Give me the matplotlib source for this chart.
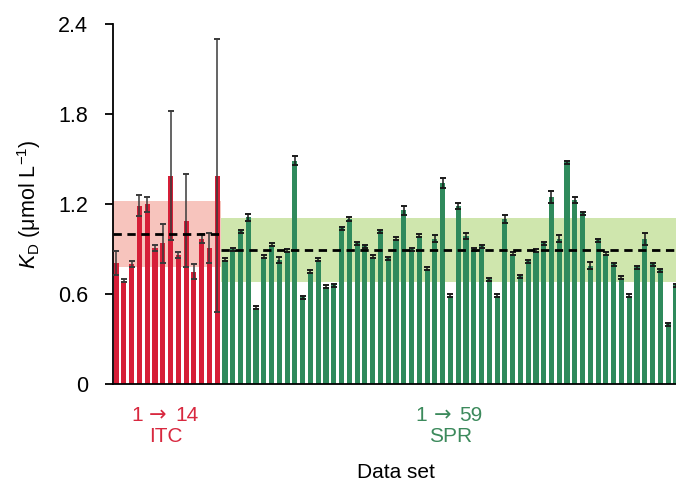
import matplotlib
matplotlib.use("Agg")
import matplotlib.pyplot as plt
import numpy as np

plt.rcParams['font.family'] = ['Liberation Sans', 'DejaVu Sans']
plt.rcParams['mathtext.fontset'] = 'custom'
plt.rcParams['mathtext.rm'] = 'Liberation Sans'
plt.rcParams['mathtext.it'] = 'Liberation Sans:italic'

# ITC data (14 sets)
itc_values = [0.81, 0.69, 0.80, 1.19, 1.20, 0.91, 0.94, 1.39, 0.86, 1.09, 0.75, 0.97, 0.91, 1.39]
itc_errors = [0.08, 0.01, 0.02, 0.07, 0.05, 0.02, 0.13, 0.43, 0.02, 0.31, 0.05, 0.03, 0.10, 0.91]

# SPR data (59 sets)
spr_values = [0.83, 0.90, 1.02, 1.11, 0.51, 0.85, 0.93, 0.83, 0.89, 1.49,
              0.58, 0.75, 0.83, 0.65, 0.66, 1.04, 1.10, 0.94, 0.92, 0.85,
              1.02, 0.84, 0.97, 1.16, 0.90, 0.99, 0.77, 0.97, 1.34, 0.59,
              1.19, 0.99, 0.90, 0.92, 0.70, 0.59, 1.10, 0.87, 0.72, 0.82,
              0.89, 0.94, 1.25, 0.97, 1.48, 1.23, 1.14, 0.79, 0.96, 0.87,
              0.80, 0.71, 0.59, 0.78, 0.97, 0.80, 0.76, 0.40, 0.66]
spr_errors = [0.01, 0.01, 0.01, 0.02, 0.01, 0.01, 0.01, 0.02, 0.01, 0.03,
              0.01, 0.01, 0.01, 0.01, 0.01, 0.01, 0.01, 0.01, 0.01, 0.01,
              0.01, 0.01, 0.01, 0.03, 0.01, 0.01, 0.01, 0.025, 0.03, 0.01,
              0.02, 0.02, 0.01, 0.01, 0.01, 0.01, 0.025, 0.01, 0.01, 0.01,
              0.01, 0.01, 0.04, 0.025, 0.01, 0.02, 0.01, 0.025, 0.01, 0.01,
              0.01, 0.01, 0.01, 0.01, 0.04, 0.01, 0.01, 0.01, 0.01]

itc_mean, itc_sd = 1.00, 0.22
spr_mean, spr_sd = 0.895, 0.215

yticks = [0, 0.6, 1.2, 1.8, 2.4]
ytick_labels = ['0', '0.6', '1.2', '1.8', '2.4']

red = '#d61f38'
green = '#2f8a5c'
red_text = '#d8283f'
green_text = '#3c8a5c'
red_shade = '#f7c4bd'
green_shade = '#cfe6ad'

fig = plt.figure(figsize=(6.76, 4.84), dpi=100)
ax = fig.add_axes([113/676, 100/484, (679-113)/676, 360/484])

n_itc = len(itc_values)
n_spr = len(spr_values)
x_itc = np.arange(n_itc)
x_spr = np.arange(n_itc, n_itc + n_spr)
xmin, xmax = -0.4, n_itc + n_spr - 0.6
boundary = n_itc - 0.5

# shaded SD bands
ax.fill_between([xmin, boundary], itc_mean - itc_sd, itc_mean + itc_sd,
                color=red_shade, lw=0, zorder=0)
ax.fill_between([boundary, xmax], spr_mean - spr_sd, spr_mean + spr_sd,
                color=green_shade, lw=0, zorder=0)

w = 0.66
ax.bar(x_itc, itc_values, width=w, color=red, zorder=2)
ax.bar(x_spr, spr_values, width=w, color=green, zorder=2)

ax.errorbar(x_itc, itc_values, yerr=itc_errors, fmt='none', ecolor='#3a3a3a',
            elinewidth=1.1, capsize=2.5, capthick=1.4, zorder=3)
ax.errorbar(x_spr, spr_values, yerr=spr_errors, fmt='none', ecolor='#1a1a1a',
            elinewidth=1.1, capsize=2.2, capthick=1.4, zorder=3)

# mean lines
ax.plot([xmin, boundary], [itc_mean, itc_mean], color='black', lw=2,
        dashes=(3, 2), zorder=4)
ax.plot([boundary, xmax], [spr_mean, spr_mean], color='black', lw=2,
        dashes=(3, 2), zorder=4)

ax.set_xlim(xmin, xmax)
ax.set_ylim(0, 2.4)
ax.set_yticks(yticks)
ax.set_yticklabels(ytick_labels, fontsize=15.5)
ax.set_xticks([])
ax.spines['top'].set_visible(False)
ax.spines['right'].set_visible(False)
ax.spines['left'].set_linewidth(1.3)
ax.spines['bottom'].set_linewidth(1.3)
ax.tick_params(axis='y', direction='out', length=5.8, width=1.3, pad=12)

ax.set_ylabel(r'$K_{\mathrm{D}}$ ($\mathrm{\mu}$mol L$^{-1}$)', fontsize=15.5, labelpad=11)
ax.set_xlabel('Data set', fontsize=15, labelpad=57)

# group labels: "1 → N" built from three pieces so the arrow matches the reference
tr = ax.get_xaxis_transform()
itc_center = 6.4
spr_center = 43.0


def range_label(xc, last, color):
    y = -0.103
    ax.annotate('1', xy=(xc, y), xycoords=tr, xytext=(-21, 0),
                textcoords='offset points', ha='center', va='baseline',
                fontsize=15, color=color, annotation_clip=False)
    ax.annotate('\u2192', xy=(xc, y), xycoords=tr, xytext=(-6, 0),
                textcoords='offset points', ha='center', va='baseline',
                fontsize=15, color=color, family='DejaVu Sans',
                annotation_clip=False)
    ax.annotate(last, xy=(xc, y), xycoords=tr, xytext=(15, 0),
                textcoords='offset points', ha='center', va='baseline',
                fontsize=15, color=color, annotation_clip=False)


range_label(itc_center, '14', red_text)
range_label(spr_center, '59', green_text)
ax.text(itc_center, -0.147, 'ITC', transform=tr,
        ha='center', va='center', fontsize=15, color=red_text)
ax.text(spr_center, -0.147, 'SPR', transform=tr,
        ha='center', va='center', fontsize=15, color=green_text)

fig.savefig('out.png', dpi=100)
